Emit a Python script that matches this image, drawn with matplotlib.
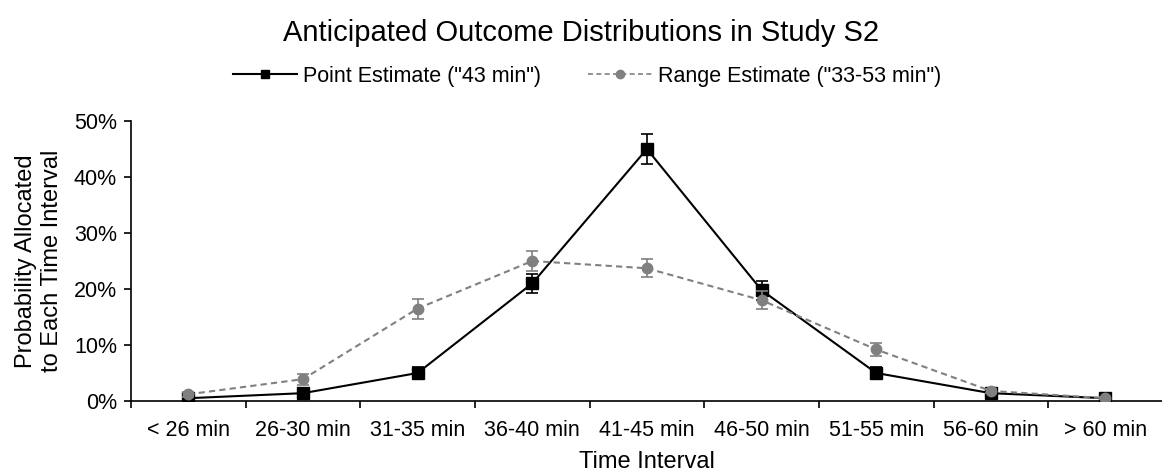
import matplotlib
matplotlib.use("Agg")
import matplotlib.pyplot as plt
from matplotlib.ticker import FuncFormatter, FixedLocator
from matplotlib.lines import Line2D
import numpy as np

categories = ["< 26 min", "26-30 min", "31-35 min", "36-40 min", "41-45 min",
              "46-50 min", "51-55 min", "56-60 min", "> 60 min"]
point_vals = [0.5, 1.4, 5.0, 21.0, 45.0, 19.8, 5.0, 1.4, 0.5]
point_err = [0.3, 0.4, 1.0, 1.7, 2.6, 1.7, 1.0, 0.4, 0.2]
range_vals = [1.2, 3.9, 16.5, 25.0, 23.7, 18.0, 9.2, 1.8, 0.5]
range_err = [0.4, 1.0, 1.8, 1.8, 1.6, 1.6, 1.2, 0.4, 0.2]
point_label = 'Point Estimate ("43 min")'
range_label = 'Range Estimate ("33-53 min")'

plt.rcParams['font.family'] = ['Liberation Sans', 'DejaVu Sans']

fig = plt.figure(figsize=(11.62, 4.71), dpi=100)
ax = fig.add_axes([0.1127, 0.1486, 0.888, 0.5945])

x = np.arange(len(categories))
gray = '#808080'
ax.errorbar(x, point_vals, yerr=point_err, color='black', ls='-', lw=1.5,
            marker='s', ms=8, ecolor='black', elinewidth=1.2, capsize=4.5,
            capthick=1.2, zorder=2)
ax.errorbar(x, range_vals, yerr=range_err, color=gray, ls='--', lw=1.5,
            marker='o', ms=7.5, ecolor=gray, elinewidth=1.2, capsize=4.5,
            capthick=1.2, zorder=3, dashes=(3, 2))

ax.set_xlim(-0.5, len(categories) - 0.5)
ax.set_ylim(0, 50)
ax.set_yticks([0, 10, 20, 30, 40, 50])
ax.yaxis.set_major_formatter(FuncFormatter(lambda v, p: f"{int(v)}%"))
ax.set_xticks(x)
ax.set_xticklabels(categories, fontsize=15.5)
ax.xaxis.set_minor_locator(FixedLocator(np.arange(-0.5, len(categories), 1.0)))
ax.tick_params(axis='x', which='major', length=0, pad=14)
ax.tick_params(axis='x', which='minor', length=5, width=1.2, direction='out')
ax.tick_params(axis='y', length=5, width=1.2, direction='out', labelsize=15.5, pad=5)

for s in ['top', 'right']:
    ax.spines[s].set_visible(False)
for s in ['left', 'bottom']:
    ax.spines[s].set_linewidth(1.2)

ax.set_xlabel("Time Interval", fontsize=17, labelpad=7)
ax.set_ylabel("Probability Allocated\nto Each Time Interval", fontsize=17, labelpad=8,
              linespacing=1.25)

fig.suptitle("Anticipated Outcome Distributions in Study S2", fontsize=21, y=0.96)

h_point = Line2D([], [], color='black', lw=1.5, marker='s', ms=6)
h_range = Line2D([], [], color=gray, lw=1.2, ls='--', dashes=(3, 2), marker='o', ms=6)
fig.legend([h_point, h_range], [point_label, range_label],
           loc='center', bbox_to_anchor=(0.505, 0.838), ncol=2, frameon=False,
           fontsize=15.5, handlelength=3.0, columnspacing=2.2, handletextpad=0.25)

fig.savefig("out.png", dpi=100)
